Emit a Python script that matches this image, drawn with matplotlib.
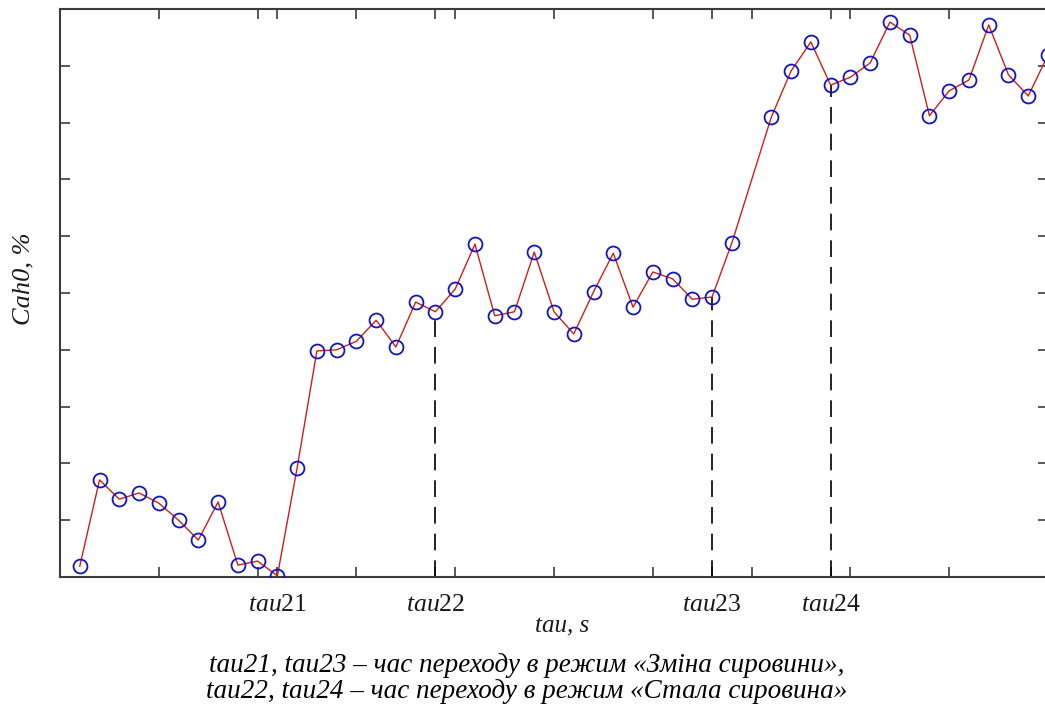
import numpy as np
import matplotlib
matplotlib.use('Agg')
import matplotlib.pyplot as plt

plt.rcParams['font.family'] = ['Liberation Serif', 'DejaVu Serif']
plt.rcParams['mathtext.fontset'] = 'custom'
plt.rcParams['mathtext.rm'] = 'Liberation Serif'
plt.rcParams['mathtext.it'] = 'Liberation Serif:italic'

# Data (tau in s, Cah0 in %)
tau = [0.2, 0.4, 0.6, 0.8, 1.0, 1.2, 1.4, 1.6, 1.8, 2.0, 2.2, 2.4,
       2.6, 2.8, 3.0, 3.2, 3.4, 3.6, 3.8, 4.0, 4.2, 4.4, 4.6, 4.8, 5.0,
       5.2, 5.4, 5.6, 5.8, 6.0, 6.2, 6.4, 6.6, 6.8,
       7.2, 7.4, 7.6, 7.8, 8.0, 8.2, 8.4, 8.6, 8.8, 9.0, 9.2, 9.4, 9.6, 9.8, 10.0]
cah0 = [0.19, 1.71, 1.37, 1.48, 1.30, 1.00, 0.65, 1.32, 0.21, 0.28, 0.02, 1.92,
        3.98, 4.00, 4.15, 4.52, 4.05, 4.84, 4.67, 5.07, 5.86, 4.60, 4.67, 5.72, 4.67,
        4.28, 5.02, 5.70, 4.75, 5.37, 5.25, 4.89, 4.93, 5.88,
        8.10, 8.91, 9.42, 8.66, 8.80, 9.05, 9.77, 9.54, 8.12, 8.56, 8.75, 9.72, 8.84, 8.47, 9.19]

# Switching moments
tau_sw = [2.2, 3.8, 6.6, 7.8]
tau_lbl = ['$tau21$', '$tau22$', '$tau23$', '$tau24$']
tau_dash = [3.8, 6.6, 7.8]

clr_line = np.array([205, 30, 30])/255
clr_mark = np.array([20, 20, 190])/255
clr_axis = np.array([60, 60, 60])/255
clr_txt = np.array([25, 25, 25])/255

fg1 = plt.figure(figsize=(10.45, 7.16), dpi=100)
ax = fg1.add_axes([60/1045, 139/716, 988/1045, 568/716])

ax.plot(tau, cah0, '-', linewidth=1, color=clr_line, zorder=3)
ax.plot(tau, cah0, 'o', markersize=10, markerfacecolor='none',
        markeredgecolor=clr_mark, markeredgewidth=1.3, zorder=4)

for t in tau_dash:
    yv = cah0[tau.index(t)]
    ax.plot([t, t], [0, yv], '--', color='black', linewidth=1.2,
            dashes=(10, 6), zorder=2)

ax.set_xlim(0, 10)
ax.set_ylim(0, 10)
ax.set_yticks(np.arange(1, 10, 1))
ax.set_yticklabels([])
ax.set_xticks(np.arange(1, 10, 1))
ax.set_xticklabels([])
ax.set_xticks(tau_sw, minor=True)
ax.set_xticklabels(tau_lbl, minor=True, fontsize=18.5, color=clr_txt)
ax.tick_params(axis='both', which='both', direction='in', length=7, width=1.2,
               color=clr_axis, top=True, right=True)
ax.tick_params(axis='x', which='minor', pad=12)
for s in ax.spines.values():
    s.set_color(clr_axis)
    s.set_linewidth(1.5)

fg1.text(562/1045, 1 - 626/716, 'tau, s', ha='center', va='center',
         fontsize=18, style='italic', color=clr_txt)
fg1.text(23/1045, 1 - 279/716, 'Cah0, %', ha='center', va='center',
         fontsize=19, style='italic', rotation=90, color=clr_txt)

fg1.text(527/1045, 1 - 665/716,
         'tau21, tau23 – час переходу в режим «Зміна сировини»,',
         ha='center', va='center', fontsize=19.5, style='italic')
fg1.text(527/1045, 1 - 692/716,
         'tau22, tau24 – час переходу в режим «Стала сировина»',
         ha='center', va='center', fontsize=19.5, style='italic')

fg1.savefig('out.png', dpi=100)
